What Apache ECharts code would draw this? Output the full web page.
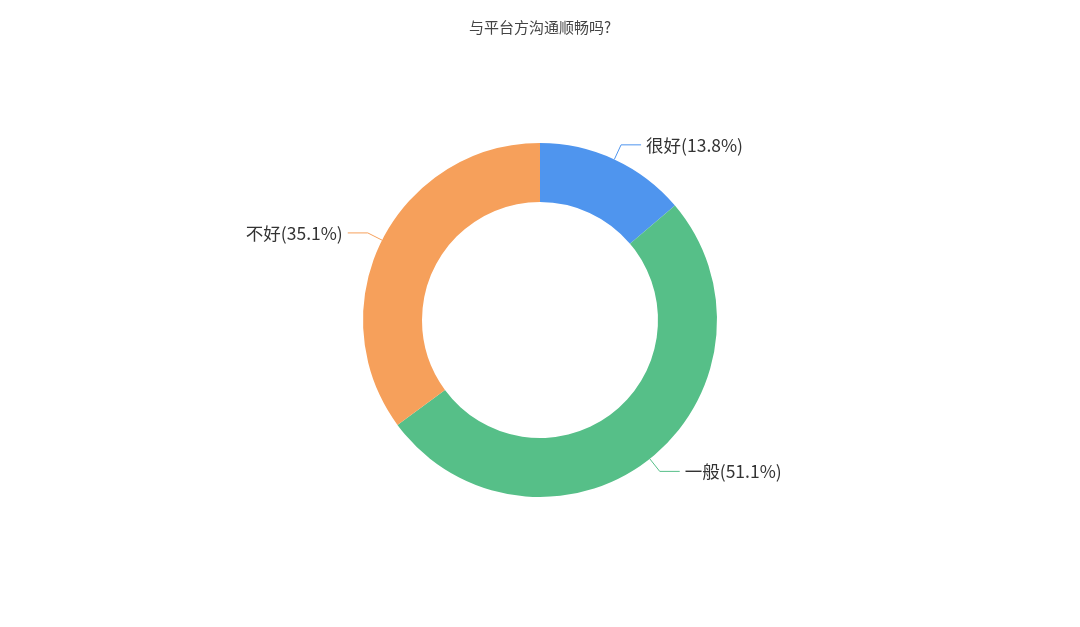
<!DOCTYPE html>
<html>
<head>
<meta charset="utf-8">
<script src="https://cdn.jsdelivr.net/npm/echarts@6/dist/echarts.min.js"></script>
<style>
  html, body { margin: 0; padding: 0; background: #fff; }
  #main { width: 1080px; height: 627px; }
</style>
</head>
<body>
<div id="main"></div>
<script>
var titleText = '与平台方沟通顺畅吗?';
var categories = ['很好', '一般', '不好'];
var values = [13.8, 51.1, 35.1];
var colors = ['#4f95ee', '#56bf88', '#f6a05b'];

var chartDom = document.getElementById('main');
var myChart = echarts.init(chartDom);
var option;

var data = categories.map(function (name, i) {
    return { name: name, value: values[i], itemStyle: { color: colors[i] } };
});

option = {
    title: {
        text: titleText,
        left: 'center',
        top: 15,
        textStyle: {
            fontSize: 15,
            fontWeight: 'normal',
            color: '#444',
            fontFamily: 'Noto Sans CJK SC'
        }
    },
    series: [
        {
            name: titleText,
            type: 'pie',
            center: [540, 320],
            radius: [118, 177],
            startAngle: 90,
            data: data,
            label: {
                formatter: '{b}({d}%)',
                fontSize: 17.5,
                color: '#333',
                fontFamily: 'Noto Sans CJK SC'
            },
            labelLine: {
                length: 16,
                length2: 20
            }
        }
    ]
};
option && myChart.setOption(option);
</script>
</body>
</html>
